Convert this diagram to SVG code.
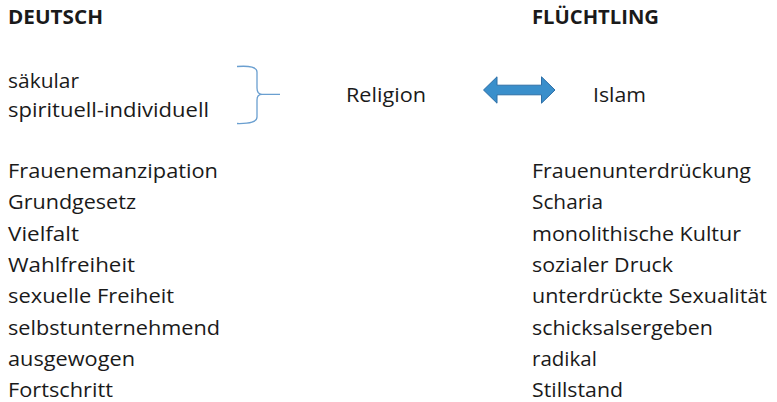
<svg xmlns="http://www.w3.org/2000/svg" width="777" height="402" viewBox="0 0 777 402">
<style>
text{font-family:"Open Sans","Liberation Sans",sans-serif;font-size:20.5px;fill:#1a1a1a}
.h{font-weight:bold;font-size:19px}
.brace{fill:none;stroke:#6a9fd0;stroke-width:1.3}
.arrow{fill:#3a8fcb;stroke:#2d6ea6;stroke-width:1}
</style>
<rect width="777" height="402" fill="#fff"/>
<g id="header-deutsch"><text class="h" x="8" y="24" textLength="95" lengthAdjust="spacingAndGlyphs">DEUTSCH</text></g>
<g id="header-fluechtling"><text class="h" x="532" y="24" textLength="127" lengthAdjust="spacingAndGlyphs">FLÜCHTLING</text></g>
<g id="religion-left">
<text x="8" y="87.5" textLength="71" lengthAdjust="spacingAndGlyphs">säkular</text>
<text x="8" y="116.5" textLength="201" lengthAdjust="spacingAndGlyphs">spirituell-individuell</text>
</g>
<g id="religion"><text x="346" y="102" textLength="80" lengthAdjust="spacingAndGlyphs">Religion</text></g>
<g id="islam"><text x="593" y="102" textLength="53" lengthAdjust="spacingAndGlyphs">Islam</text></g>
<g id="connectors">
<path class="brace" d="M237,66.5 Q257,65 257,72 L257,88 Q257,94.3 262,94.3 L280,94.3 M262,94.3 Q257,94.3 257,100 L257,117 Q257,124 237,123.5"/>
<path class="arrow" d="M483.5,90 L497,76.8 L497,85.2 L541.5,85.2 L541.5,76.8 L555,90 L541.5,103.2 L541.5,94.8 L497,94.8 L497,103.2 Z"/>
</g>
<g id="list-deutsch">
<text x="8" y="178" textLength="210" lengthAdjust="spacingAndGlyphs">Frauenemanzipation</text>
<text x="8" y="209.3" textLength="128" lengthAdjust="spacingAndGlyphs">Grundgesetz</text>
<text x="8" y="240.6" textLength="71" lengthAdjust="spacingAndGlyphs">Vielfalt</text>
<text x="8" y="271.9" textLength="127" lengthAdjust="spacingAndGlyphs">Wahlfreiheit</text>
<text x="8" y="303.2" textLength="166" lengthAdjust="spacingAndGlyphs">sexuelle Freiheit</text>
<text x="8" y="334.5" textLength="212" lengthAdjust="spacingAndGlyphs">selbstunternehmend</text>
<text x="8" y="365.8" textLength="127" lengthAdjust="spacingAndGlyphs">ausgewogen</text>
<text x="8" y="396.5" textLength="105" lengthAdjust="spacingAndGlyphs">Fortschritt</text>
</g>
<g id="list-fluechtling">
<text x="532" y="178" textLength="219" lengthAdjust="spacingAndGlyphs">Frauenunterdrückung</text>
<text x="532" y="209.3" textLength="71" lengthAdjust="spacingAndGlyphs">Scharia</text>
<text x="532" y="240.6" textLength="209" lengthAdjust="spacingAndGlyphs">monolithische Kultur</text>
<text x="532" y="271.9" textLength="141" lengthAdjust="spacingAndGlyphs">sozialer Druck</text>
<text x="532" y="303.2" textLength="235" lengthAdjust="spacingAndGlyphs">unterdrückte Sexualität</text>
<text x="532" y="334.5" textLength="181" lengthAdjust="spacingAndGlyphs">schicksalsergeben</text>
<text x="532" y="365.8">radikal</text>
<text x="532" y="396.5" textLength="91" lengthAdjust="spacingAndGlyphs">Stillstand</text>
</g>
</svg>
